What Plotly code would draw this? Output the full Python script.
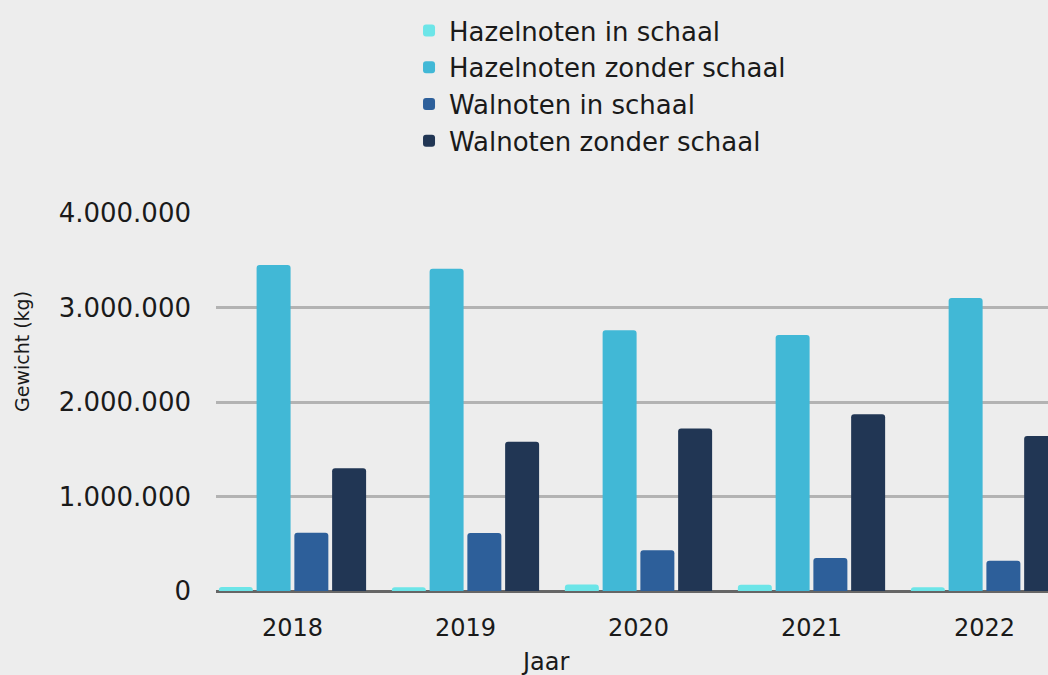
import plotly.graph_objects as go

years = ["2018", "2019", "2020", "2021", "2022"]
hazel_in = [42000, 39000, 70000, 67000, 39000]
hazel_zonder = [3450000, 3410000, 2760000, 2710000, 3100000]
wal_in = [617000, 614000, 430000, 350000, 320000]
wal_zonder = [1300000, 1580000, 1720000, 1870000, 1640000]

series = [
    ("Hazelnoten in schaal", hazel_in, "#6CE5E8"),
    ("Hazelnoten zonder schaal", hazel_zonder, "#41B8D6"),
    ("Walnoten in schaal", wal_in, "#2D5F9A"),
    ("Walnoten zonder schaal", wal_zonder, "#213654"),
]

FONT = "DejaVu Sans"
TXT = "#1a1a1a"

fig = go.Figure()
for i, (name, vals, col) in enumerate(series):
    fig.add_trace(go.Bar(
        x=years, y=vals, name=name, legendgroup=f"g{i}",
        marker=dict(color=col, line=dict(width=0), cornerradius=3),
        hovertemplate="%{x}: %{y:,d} kg<extra>" + name + "</extra>",
    ))

fig.update_layout(
    width=1048, height=675,
    paper_bgcolor="#EDEDED", plot_bgcolor="#EDEDED",
    margin=dict(l=216, r=0, t=213, b=84),
    barmode="group", bargap=0.127, bargroupgap=0.1,
    separators=",.",
    font=dict(family=FONT, color=TXT),
    legend=dict(
        x=0.232, xanchor="left", y=1.545, yanchor="top",
        font=dict(size=26, family=FONT, color=TXT),
        bgcolor="rgba(0,0,0,0)", tracegroupgap=0, traceorder="grouped",
    ),
    xaxis=dict(
        type="category", range=[-0.442, 4.367], showgrid=False,
        tickfont=dict(size=24), ticks="", ticklabelstandoff=20,
        showline=False, zeroline=False,
    ),
    yaxis=dict(
        range=[0, 4000000], tickvals=[0, 1000000, 2000000, 3000000, 4000000],
        tickformat=",d", tickfont=dict(size=26), ticklabelstandoff=24,
        showgrid=True, gridcolor="#B3B3B3", gridwidth=2.5,
        zeroline=True, zerolinecolor="#666666", zerolinewidth=2.5,
        showline=False, ticks="",
    ),
    annotations=[
        dict(text="Gewicht (kg)", textangle=-90, xref="paper", yref="paper",
             x=(22 - 216) / 832, y=(591 - 352) / 378, showarrow=False,
             xanchor="center", yanchor="middle", font=dict(size=19, color=TXT)),
        dict(text="Jaar", xref="paper", yref="paper",
             x=(545 - 216) / 832, y=-(662 - 591) / 378, showarrow=False,
             xanchor="center", yanchor="middle", font=dict(size=24, color=TXT)),
    ],
)

fig.write_html("out.html", config={"displayModeBar": False},
               post_script="document.body.style.margin='0';")
